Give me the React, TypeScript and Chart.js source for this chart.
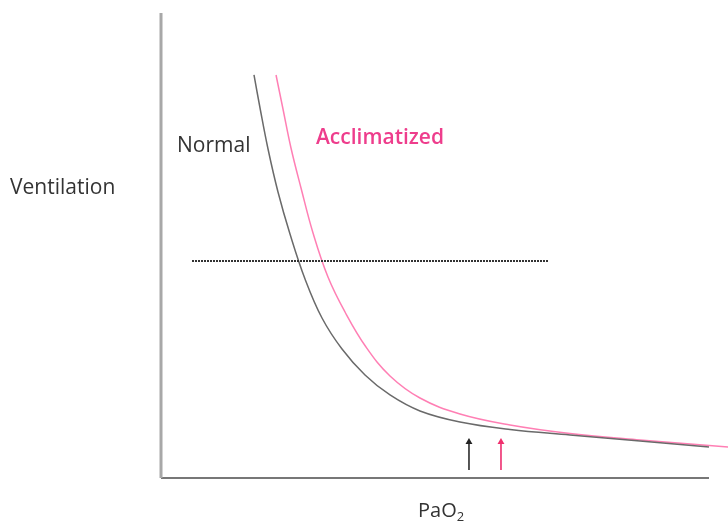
import React, { useEffect, useRef } from "react";
import { Chart, registerables } from "chart.js";

Chart.register(...registerables);

// Normal curve: PaO2 (0-100 relative) vs ventilation (0-100 relative)
const normalX = [16.97, 18.07, 19.53, 21.35, 23.54, 26.28, 29.38, 33.03, 37.23, 41.79, 47.26, 54.56, 63.69, 74.64, 87.41, 100];
const normalY = [86.67, 79.57, 70.75, 61.51, 52.47, 42.8, 34.41, 27.74, 22.15, 17.85, 14.41, 12.04, 10.43, 9.25, 7.96, 6.67];

// Acclimatized curve
const acclimX = [20.99, 22.26, 23.72, 25.55, 27.74, 30.47, 33.58, 37.41, 41.79, 47.26, 54.56, 63.69, 74.64, 87.41, 103.47];
const acclimY = [86.67, 79.35, 70.97, 62.37, 52.69, 43.23, 35.7, 28.17, 21.94, 17.2, 13.76, 11.4, 9.57, 8.17, 6.67];

// Horizontal dotted reference line
const refLineX = [5.66, 70.62];
const refLineY = 46.67;

// Arrows marking the PaO2 thresholds
const arrowNormalX = 56.2;
const arrowAcclimX = 62.04;
const arrowY = [1.72, 7.74];

// Labels: text, x, y (data coords, left / middle)
const labelTexts = ["Normal", "Acclimatized", "Ventilation"];
const labelX = [2.92, 28.28, -27.55];
const labelY = [71.4, 73.1, 62.35];
const labelColors = ["#333333", "#ee3d8c", "#333333"];
const labelWeights = ["400", "600", "400"];
const labelSizes = [21, 21, 21];
const xTitle = ["PaO", "2"];
const xTitlePos = [46.9, -7.1];

const FONT = "'Open Sans', 'Noto Sans', sans-serif";

const toPts = (xs: number[], ys: number[]) => xs.map((x, i) => ({ x, y: ys[i] }));

const labelPlugin = {
  id: "labels",
  afterDatasetsDraw(chart: any) {
    const { ctx, scales } = chart;
    const xs = scales.x;
    const ys = scales.y;
    ctx.save();
    ctx.textBaseline = "middle";
    ctx.textAlign = "left";
    labelTexts.forEach((t, i) => {
      ctx.font = `${labelWeights[i]} ${labelSizes[i]}px ${FONT}`;
      ctx.fillStyle = labelColors[i];
      ctx.fillText(t, xs.getPixelForValue(labelX[i]), ys.getPixelForValue(labelY[i]));
    });
    const px = xs.getPixelForValue(xTitlePos[0]);
    const py = ys.getPixelForValue(xTitlePos[1]);
    ctx.fillStyle = "#333333";
    ctx.font = `20px ${FONT}`;
    ctx.fillText(xTitle[0], px, py);
    const w = ctx.measureText(xTitle[0]).width;
    ctx.font = `13px ${FONT}`;
    ctx.fillText(xTitle[1], px + w, py + 6);
    ctx.restore();
  },
};

export default function App() {
  const ref = useRef<HTMLCanvasElement | null>(null);
  useEffect(() => {
    if (!ref.current) return;
    const chart = new Chart(ref.current, {
      type: "line",
      data: {
        datasets: [
          {
            data: [{ x: 0, y: 0 }, { x: 0, y: 100 }],
            borderColor: "#a8a8a8",
            borderWidth: 3,
            pointRadius: 0,
            clip: false,
          } as any,
          {
            data: [{ x: 0, y: 0 }, { x: 100, y: 0 }],
            borderColor: "#777777",
            borderWidth: 2,
            pointRadius: 0,
            clip: false,
          },
          {
            data: toPts(refLineX, [refLineY, refLineY]),
            borderColor: "#333333",
            borderWidth: 2,
            borderDash: [2, 1],
            pointRadius: 0,
          },
          {
            data: toPts(normalX, normalY),
            borderColor: "#6a6a6a",
            borderWidth: 1.5,
            pointRadius: 0,
            tension: 0.4,
            clip: false,
          },
          {
            data: toPts(acclimX, acclimY),
            borderColor: "#ff7fb4",
            borderWidth: 1.5,
            pointRadius: 0,
            tension: 0.4,
            clip: false,
          },
          {
            data: toPts([arrowNormalX, arrowNormalX], arrowY),
            borderColor: "#444444",
            backgroundColor: "#222222",
            borderWidth: 1.8,
            pointRadius: [0, 4],
            pointStyle: "triangle",
            pointBorderWidth: 0,
          },
          {
            data: toPts([arrowAcclimX, arrowAcclimX], arrowY),
            borderColor: "#f0457f",
            backgroundColor: "#f0306e",
            borderWidth: 1.8,
            pointRadius: [0, 4],
            pointStyle: "triangle",
            pointBorderWidth: 0,
          },
        ],
      },
      options: {
        animation: false,
        responsive: false,
        layout: { padding: { left: 161, right: 19, top: 13, bottom: 45 } },
        plugins: { legend: { display: false }, tooltip: { enabled: false } },
        scales: {
          x: { type: "linear", min: 0, max: 100, display: false },
          y: { type: "linear", min: 0, max: 100, display: false },
        },
      },
      plugins: [labelPlugin],
    });
    return () => chart.destroy();
  }, []);
  return (
    <div style={{ position: "absolute", left: 0, top: 0, width: 728, height: 523, background: "#fff" }}>
      <canvas ref={ref} width={728} height={523} />
    </div>
  );
}
